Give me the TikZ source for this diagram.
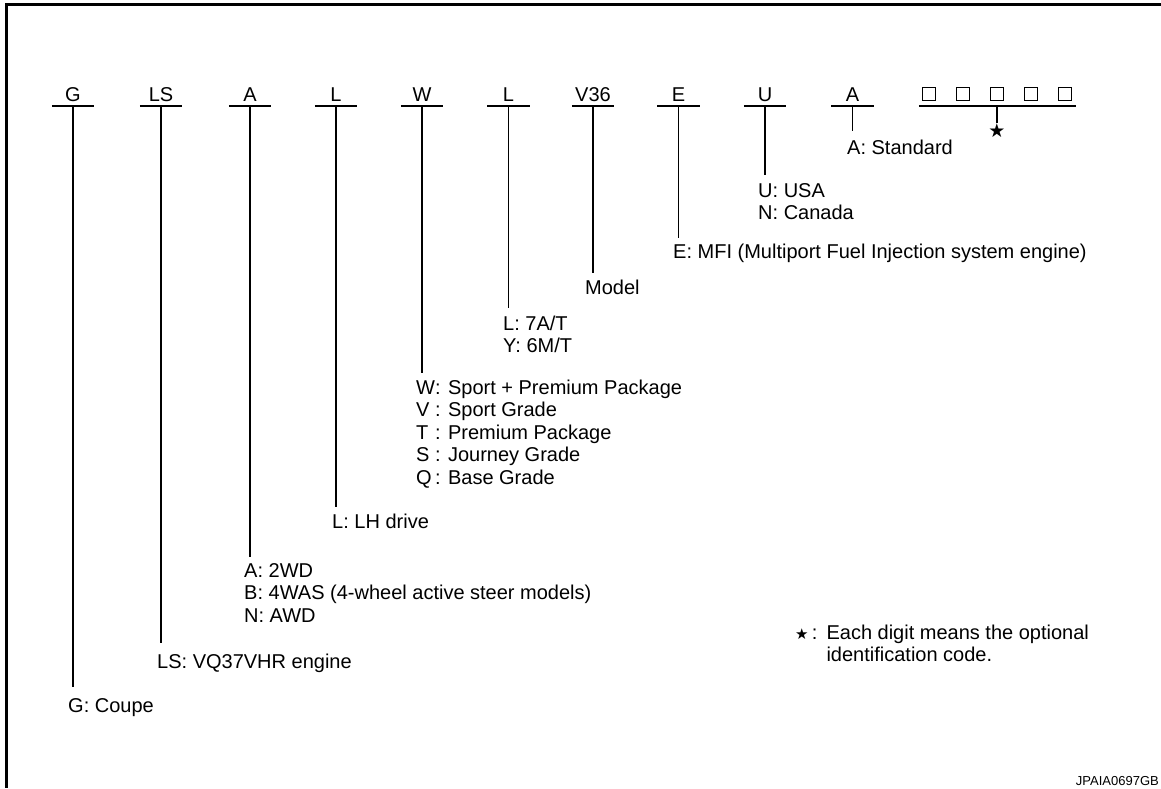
\documentclass[tikz,border=0pt]{standalone}
\usepackage{fontspec}
\setmainfont{Liberation Sans}
\newfontfamily\djv{DejaVu Sans}
\begin{document}
\begin{tikzpicture}[x=1pt,y=-1pt,
  font=\fontsize{20}{22.5}\selectfont,
  hdr/.style={inner xsep=0pt, inner ysep=4pt, text depth=0pt, minimum width=42pt, anchor=south},
  bar/.style={line width=1.5pt},
  stem/.style={line width=1.5pt},
  lbl/.style={inner sep=0pt, anchor=base west},
  sq/.style={draw, line width=1.3pt, minimum size=12.5pt, inner sep=0pt},
]
\useasboundingbox (0,0) rectangle (1161,788);
% frame
\draw[line width=3pt] (1161,4.5) -- (6.3,4.5) -- (6.3,788);

% header letters
\node[hdr] (g)   at (73,106)  {G};
\node[hdr] (ls)  at (161,106) {LS};
\node[hdr] (a)   at (250,106) {A};
\node[hdr] (l)   at (336,106) {L};
\node[hdr] (w)   at (422,106) {W};
\node[hdr] (l2)  at (508.5,106) {L};
\node[hdr] (v)   at (593,106) {V36};
\node[hdr] (e)   at (678.5,106) {E};
\node[hdr] (u)   at (765,106) {U};
\node[hdr] (as)  at (852.5,106) {A};
\foreach \n in {g,ls,a,l,w,l2,v,e,u,as}
  \draw[bar] (\n.south west) -- (\n.south east);

% optional digits
\node[sq] (b1) at (929,94) {};
\node[sq] (b2) at (963,94) {};
\node[sq] (b3) at (997,94) {};
\node[sq] (b4) at (1031,94) {};
\node[sq] (b5) at (1065,94) {};
\node[inner sep=0pt, minimum width=157pt, minimum height=0pt] (opt) at (997.5,106) {};
\draw[bar] (opt.west) -- (opt.east);
\node[inner sep=0pt, font=\fontsize{19}{19}\selectfont\djv] (star) at (997,131) {★};
\coordinate (opte) at (997,122.7);
\draw[stem] (opt.center -| opte) -- (opte);

% line ends
\coordinate (ge)  at (73,687);
\coordinate (lse) at (161,643);
\coordinate (ae)  at (250,557);
\coordinate (le)  at (336,507);
\coordinate (we)  at (422,373);
\coordinate (l2e) at (508.5,308);
\coordinate (ve)  at (593,273);
\coordinate (ee)  at (678.5,238);
\coordinate (ue)  at (765,175);
\coordinate (ase) at (852.5,130.7);

% labels
\node[lbl] (gl)  at (68,712)  {G: Coupe};
\node[lbl] (lsl) at (157,668) {LS: VQ37VHR engine};
\node[lbl] (al)  at (244,577) {\begin{tabular}[t]{@{}l@{}}A: 2WD\\B: 4WAS (4-wheel active steer models)\\N: AWD\end{tabular}};
\node[lbl] (ll)  at (332,528) {L: LH drive};
\node[lbl] (wl)  at (416,394) {\begin{tabular}[t]{@{}l@{}l@{}}W&: Sport + Premium Package\\V &: Sport Grade\\T &: Premium Package\\S &: Journey Grade\\Q&: Base Grade\end{tabular}};
\node[lbl] (l2l) at (503,330) {\begin{tabular}[t]{@{}l@{}}L: 7A/T\\Y: 6M/T\end{tabular}};
\node[lbl] (vl)  at (585,294) {Model};
\node[lbl] (el)  at (673,258) {E: MFI (Multiport Fuel Injection system engine)};
\node[lbl] (ul)  at (758,197) {\begin{tabular}[t]{@{}l@{}}U: USA\\N: Canada\end{tabular}};
\node[lbl] (asl) at (847,154) {A: Standard};

% stems
\draw[stem] (g.south)  -- (ge);
\draw[stem] (ls.south) -- (lse);
\draw[stem] (a.south)  -- (ae);
\draw[stem] (l.south)  -- (le);
\draw[stem] (w.south)  -- (we);
\draw[stem] (l2.south) -- (l2e);
\draw[stem] (v.south)  -- (ve);
\draw[stem] (e.south)  -- (ee);
\draw[stem] (u.south)  -- (ue);
\draw[stem] (as.south) -- (ase);

% note
\node[lbl] (note) at (795,639) {\begin{tabular}[t]{@{}l@{\hspace{9pt}}l@{}}{\fontsize{15}{15}\selectfont\djv ★}\,: & Each digit means the optional\\ & identification code.\end{tabular}};
\node[inner sep=0pt, anchor=base east, font=\fontsize{13}{15}\selectfont] (code) at (1159,785) {JPAIA0697GB};
\end{tikzpicture}
\end{document}
